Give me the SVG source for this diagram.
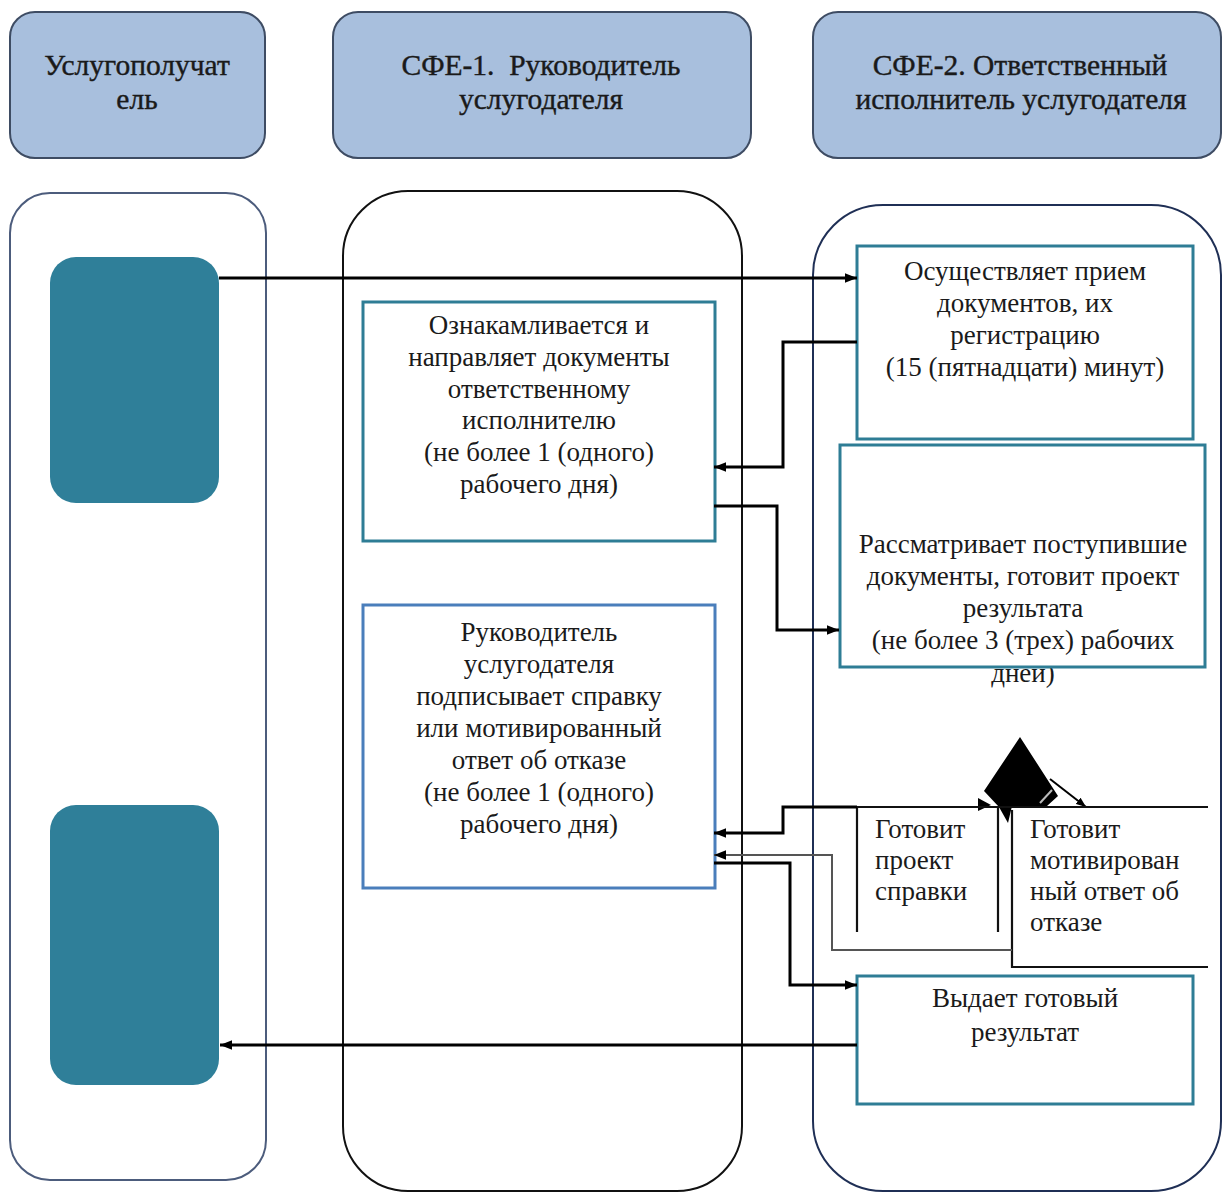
<svg xmlns="http://www.w3.org/2000/svg" width="1222" height="1192" viewBox="0 0 1222 1192">
  <style>
    .hdr { fill: #a8bfdd; stroke: #3e4c63; stroke-width: 2; }
    .lane1 { fill: #ffffff; stroke: #4c5c7c; stroke-width: 2; }
    .lane2 { fill: #ffffff; stroke: #111111; stroke-width: 2; }
    .lane3 { fill: #ffffff; stroke: #1f2f55; stroke-width: 2; }
    .actor { fill: #2f7f99; }
    .box { fill: #ffffff; stroke: #2e7d95; stroke-width: 3; }
    .box-blue { fill: #ffffff; stroke: #4a7ebb; stroke-width: 3; }
    .frame { fill: none; stroke: #111111; stroke-width: 2.2; }
    .t { font-family: "Liberation Serif", "Times New Roman", serif; font-size: 27px; fill: #1a1a1a; }
    .th { font-family: "Liberation Serif", "Times New Roman", serif; font-size: 29.5px; fill: #1a1a1a; stroke: #1a1a1a; stroke-width: 0.4; }
    .c { text-anchor: middle; }
    .conn { fill: none; stroke: #000000; stroke-width: 3; }
    .conn-thin { fill: none; stroke: #555555; stroke-width: 2; }
  </style>
  <defs>
    <marker id="arrow" viewBox="0 0 10 8" refX="10" refY="4" markerWidth="12" markerHeight="10" markerUnits="userSpaceOnUse" orient="auto">
      <path d="M0,0 L10,4 L0,8 z" fill="#000000"/>
    </marker>
    <marker id="arrow-small" viewBox="0 0 10 8" refX="10" refY="4" markerWidth="10" markerHeight="8" markerUnits="userSpaceOnUse" orient="auto">
      <path d="M0,0 L10,4 L0,8 z" fill="#000000"/>
    </marker>
  </defs>

  <rect width="1222" height="1192" fill="#ffffff"/>

  <!-- swimlanes -->
  <g id="lanes">
    <rect class="lane1" x="10" y="193" width="256" height="987" rx="40" ry="40"/>
    <rect class="lane2" x="343" y="191" width="399" height="1000" rx="65" ry="65"/>
    <rect class="lane3" x="813" y="205" width="408" height="986" rx="70" ry="70"/>
  </g>

  <!-- lane headers -->
  <g id="header-recipient">
    <rect class="hdr" x="10" y="12" width="255" height="146" rx="25" ry="25"/>
    <text class="th c" x="137" y="75">Услугополучат</text>
    <text class="th c" x="137" y="109">ель</text>
  </g>
  <g id="header-sfe1">
    <rect class="hdr" x="333" y="12" width="418" height="146" rx="25" ry="25"/>
    <text class="th c" x="541" y="75" xml:space="preserve">СФЕ-1.  Руководитель</text>
    <text class="th c" x="541" y="109">услугодателя</text>
  </g>
  <g id="header-sfe2">
    <rect class="hdr" x="813" y="12" width="408" height="146" rx="25" ry="25"/>
    <text class="th c" x="1020" y="75">СФЕ-2. Ответственный</text>
    <text class="th c" x="1021" y="109">исполнитель услугодателя</text>
  </g>

  <!-- recipient start / end -->
  <g id="recipient-start">
    <rect class="actor" x="50" y="257" width="169" height="246" rx="26" ry="26"/>
  </g>
  <g id="recipient-end">
    <rect class="actor" x="50" y="805" width="169" height="280" rx="26" ry="26"/>
  </g>

  <!-- SFE-1 steps -->
  <g id="step-review">
    <rect class="box" x="363" y="302" width="352" height="239"/>
    <text class="t c" x="539" y="334">Ознакамливается и</text>
    <text class="t c" x="539" y="366">направляет документы</text>
    <text class="t c" x="539" y="398">ответственному</text>
    <text class="t c" x="539" y="429">исполнителю</text>
    <text class="t c" x="539" y="461">(не более 1 (одного)</text>
    <text class="t c" x="539" y="493">рабочего дня)</text>
  </g>
  <g id="step-sign">
    <rect class="box-blue" x="363" y="605" width="352" height="283"/>
    <text class="t c" x="539" y="641">Руководитель</text>
    <text class="t c" x="539" y="673">услугодателя</text>
    <text class="t c" x="539" y="705">подписывает справку</text>
    <text class="t c" x="539" y="737">или мотивированный</text>
    <text class="t c" x="539" y="769">ответ об отказе</text>
    <text class="t c" x="539" y="801">(не более 1 (одного)</text>
    <text class="t c" x="539" y="833">рабочего дня)</text>
  </g>

  <!-- SFE-2 steps -->
  <g id="step-receive">
    <rect class="box" x="857" y="246" width="336" height="193"/>
    <text class="t c" x="1025" y="280">Осуществляет прием</text>
    <text class="t c" x="1025" y="312">документов, их</text>
    <text class="t c" x="1025" y="344">регистрацию</text>
    <text class="t c" x="1025" y="376">(15 (пятнадцати) минут)</text>
  </g>
  <g id="step-examine">
    <!-- last line runs past the frame; the frame's fill hides its top -->
    <text class="t c" x="1023" y="682">дней)</text>
    <rect class="box" x="840" y="445" width="365" height="222"/>
    <text class="t c" x="1023" y="553">Рассматривает поступившие</text>
    <text class="t c" x="1023" y="585">документы, готовит проект</text>
    <text class="t c" x="1023" y="617">результата</text>
    <text class="t c" x="1023" y="649">(не более 3 (трех) рабочих</text>
  </g>
  <g id="decision">
    <polygon points="1020,737 1058,796 1047,806 1012,806 1008,823 999,807 984,791" fill="#000000"/>
    <path d="M1050,779 L1086,807" fill="none" stroke="#000000" stroke-width="2" marker-end="url(#arrow-small)"/>
    <path d="M1040,803 L1052,790" fill="none" stroke="#bbbbbb" stroke-width="2"/>
    <polygon points="978,798 991,805 978,811" fill="#000000"/>
  </g>
  <g id="step-draft-certificate">
    <path class="frame" d="M857,807 H1208 M857,807 V932 M998,807 V932"/>
    <text class="t" x="875" y="838">Готовит</text>
    <text class="t" x="875" y="869">проект</text>
    <text class="t" x="875" y="900">справки</text>
  </g>
  <g id="step-draft-refusal">
    <path class="frame" d="M1012,810 V967 H1208"/>
    <text class="t" x="1030" y="838">Готовит</text>
    <text class="t" x="1030" y="869">мотивирован</text>
    <text class="t" x="1030" y="900">ный ответ об</text>
    <text class="t" x="1030" y="931">отказе</text>
  </g>
  <g id="step-issue">
    <rect class="box" x="857" y="976" width="336" height="128"/>
    <text class="t c" x="1025" y="1007">Выдает готовый</text>
    <text class="t c" x="1025" y="1041">результат</text>
  </g>

  <!-- connectors -->
  <g id="connectors">
    <path class="conn" d="M219,278 H857" marker-end="url(#arrow)"/>
    <path class="conn" d="M857,342 H783 V467 H714" marker-end="url(#arrow)"/>
    <path class="conn" d="M714,506 H777 V630 H839" marker-end="url(#arrow)"/>
    <path class="conn" d="M857,807 H783 V833 H714" marker-end="url(#arrow)"/>
    <path class="conn-thin" d="M1012,950 H832 V855 H714" marker-end="url(#arrow)"/>
    <path class="conn" d="M714,863 H790 V985 H857" marker-end="url(#arrow)"/>
    <path class="conn" d="M857,1045 H220" marker-end="url(#arrow)"/>
  </g>
</svg>
